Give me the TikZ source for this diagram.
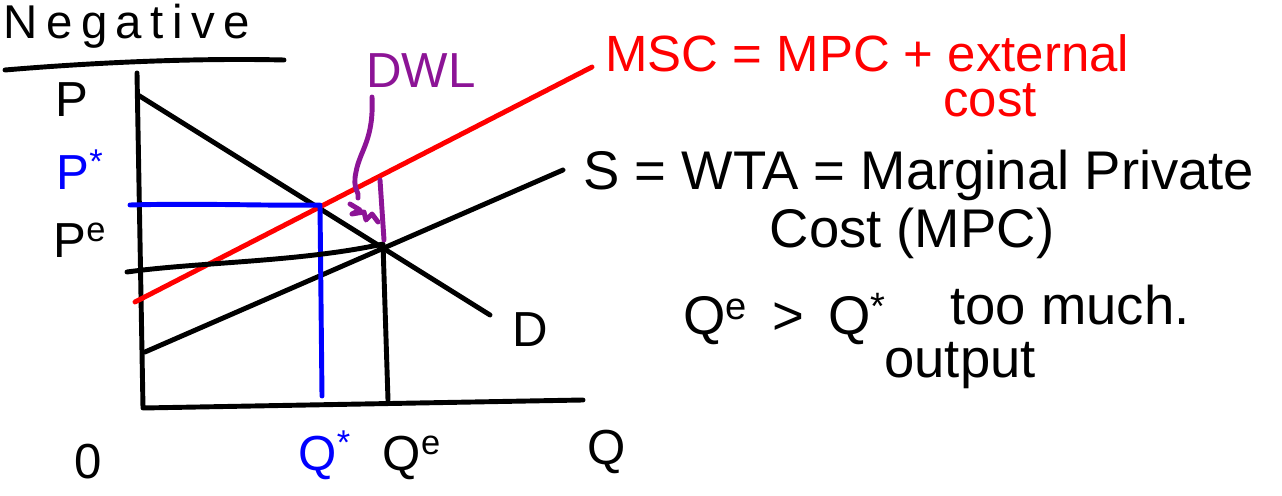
\documentclass[tikz,border=0pt]{standalone}
\usepackage{fontspec}
\setmainfont{Liberation Sans}
\usetikzlibrary{arrows.meta, positioning, calc}

\definecolor{inkred}{RGB}{255,0,0}
\definecolor{inkblue}{RGB}{0,0,255}
\definecolor{inkpurple}{RGB}{140,20,150}

\tikzset{
  pen/.style={line width=2.8pt, line cap=round, line join=round},
  hand/.style={font=\fontsize{28}{30}\selectfont, inner sep=0pt},
  bighand/.style={font=\fontsize{31}{33}\selectfont, inner sep=0pt},
  nodesc/.style={text depth=0pt},
  lowtop/.style={text height=0.55em}
}

\begin{document}
\begin{tikzpicture}[x=0.02cm, y=-0.02cm]
  \useasboundingbox (0,0) rectangle (1282,496);

  % title
  \node[font=\fontsize{27}{29}\selectfont\addfontfeature{LetterSpace=18},
        inner sep=0pt, text height=0.72em, anchor=base west] (title) at (3,39) {Negative};
  \coordinate (ulA) at (5,70);
  \coordinate (ulB) at (284,60);
  \draw[pen] (ulA) .. controls (100,62) and (200,58) .. (ulB);

  % axes
  \coordinate (ytop) at (137,73);
  \coordinate (orig) at (143,408);
  \coordinate (xend) at (583,400);
  \draw[pen] (ytop) -- (orig) -- (xend);

  % curves
  \coordinate (dA) at (138,95);
  \coordinate (dB) at (490,315);
  \coordinate (sA) at (145,352);
  \coordinate (sB) at (563,170);
  \coordinate (mA) at (135,302);
  \coordinate (mB) at (592,67);
  \draw[pen] (dA) -- (dB);
  \draw[pen] (sA) -- (sB);
  \draw[pen, inkred] (mA) -- (mB);

  % equilibrium and optimum
  \coordinate (opt) at (320,205);
  \coordinate (eq) at (383,244);
  \coordinate (pstar) at (130,205);
  \coordinate (qstar) at (322,396);
  \coordinate (pe) at (127,272);
  \coordinate (qe) at (388,400);
  \draw[pen, inkblue] (pstar) .. controls (200,203) and (270,206) .. (opt) -- (qstar);
  \draw[pen] (pe) .. controls (200,262) and (300,262) .. (eq) -- (qe);

  % DWL
  \coordinate (dwlTop) at (380,180);
  \coordinate (dwlBot) at (384,240);
  \draw[pen, inkpurple] (dwlTop) -- (dwlBot);
  \coordinate (leadA) at (372,97);
  \coordinate (leadB) at (358,198);
  \draw[pen, inkpurple] (leadA) .. controls (374,140) and (360,150) .. (356,172)
    .. controls (352,190) and (360,192) .. (leadB);
  \draw[pen, inkpurple] (350,204) -- (360,210) -- (352,214) -- (364,212)
    -- (366,220) -- (372,214) -- (378,222);
  \node[hand, inkpurple, anchor=base west] (dwl) at (366,88) {DWL};

  % axis labels
  \node[hand] (pLbl) at (72,100) {P};
  \node[hand, inkblue] (pstarLbl) at (80,170) {P\textsuperscript{*}};
  \node[hand] (peLbl) at (80,240) {P\textsuperscript{e}};
  \node[hand] (zero) at (88,462) {0};
  \node[hand, inkblue] (qstarLbl) at (325,455) {Q\textsuperscript{*}};
  \node[hand] (qeLbl) at (412,458) {Q\textsuperscript{e}};
  \node[hand] (qLbl) at (607,452) {Q};
  \node[hand] (dLbl) at (530,330) {D};

  % notes
  \node[bighand, font=\fontsize{29}{31}\selectfont, inkred, nodesc, anchor=base west]
    (msc) at (605,72) {MSC = MPC + external};
  \node[bighand, font=\fontsize{29}{31}\selectfont, inkred, lowtop, anchor=base]
    (mscB) at (990,117) {cost};
  \node[bighand, anchor=base west] (sLbl) at (583,190) {S = WTA = Marginal Private};
  \node[bighand, anchor=base] (sLblB) at (912,248) {Cost (MPC)};
  \node[bighand, anchor=base west] (cmp) at (683,335) {Q\textsuperscript{e} \,>\, Q\textsuperscript{*}};
  \node[bighand, nodesc, anchor=base west] (cmpB) at (950,325) {too much.};
  \node[bighand, lowtop, anchor=base] (cmpC) at (960,378) {output};
\end{tikzpicture}
\end{document}
